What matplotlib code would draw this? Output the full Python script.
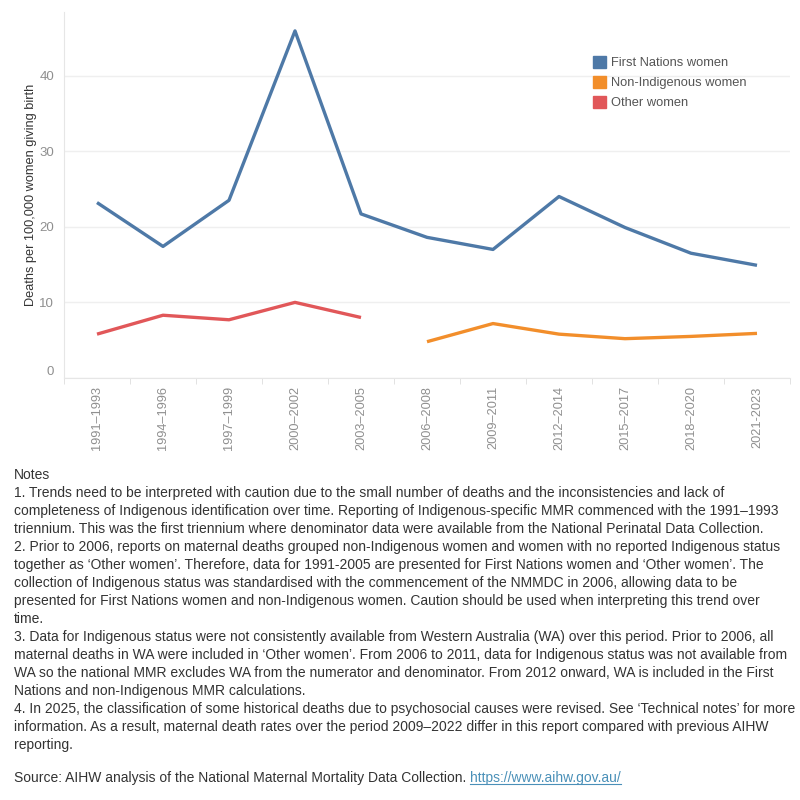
import matplotlib
matplotlib.use("Agg")
import matplotlib.pyplot as plt
from matplotlib.patches import Patch
from matplotlib.ticker import FixedLocator
import numpy as np

periods = ["1991–1993", "1994–1996", "1997–1999", "2000–2002", "2003–2005",
           "2006–2008", "2009–2011", "2012–2014", "2015–2017", "2018–2020",
           "2021-2023"]
first_nations = [23.2, 17.4, 23.5, 45.9, 21.7, 18.6, 17.0, 24.0, 19.9, 16.5, 14.9]
other_women = [5.8, 8.3, 7.7, 10.0, 8.0]            # 1991-1993 .. 2003-2005
non_indigenous = [4.8, 7.2, 5.8, 5.2, 5.5, 5.9]     # 2006-2008 .. 2021-2023
series_names = ["First Nations women", "Non-Indigenous women", "Other women"]

BLUE = "#4e79a7"
ORANGE = "#f28e2b"
RED = "#e15759"
GREY = "#8f8f8f"

notes = [
    "Notes",
    "1. Trends need to be interpreted with caution due to the small number of deaths and the inconsistencies and lack of",
    "completeness of Indigenous identification over time. Reporting of Indigenous-specific MMR commenced with the 1991–1993",
    "triennium. This was the first triennium where denominator data were available from the National Perinatal Data Collection.",
    "2. Prior to 2006, reports on maternal deaths grouped non-Indigenous women and women with no reported Indigenous status",
    "together as ‘Other women’. Therefore, data for 1991-2005 are presented for First Nations women and ‘Other women’. The",
    "collection of Indigenous status was standardised with the commencement of the NMMDC in 2006, allowing data to be",
    "presented for First Nations women and non-Indigenous women. Caution should be used when interpreting this trend over",
    "time.",
    "3. Data for Indigenous status were not consistently available from Western Australia (WA) over this period. Prior to 2006, all",
    "maternal deaths in WA were included in ‘Other women’. From 2006 to 2011, data for Indigenous status was not available from",
    "WA so the national MMR excludes WA from the numerator and denominator. From 2012 onward, WA is included in the First",
    "Nations and non-Indigenous MMR calculations.",
    "4. In 2025, the classification of some historical deaths due to psychosocial causes were revised. See ‘Technical notes’ for more",
    "information. As a result, maternal death rates over the period 2009–2022 differ in this report compared with previous AIHW",
    "reporting.",
]
source_text = "Source: AIHW analysis of the National Maternal Mortality Data Collection. "
source_link = "https://www.aihw.gov.au/"

plt.rcParams['font.family'] = ["Liberation Sans", "DejaVu Sans"]

fig = plt.figure(figsize=(8, 8), dpi=100)
W, H = 800, 800
ax = fig.add_axes([64 / W, 1 - 378 / H, (790 - 64) / W, (378 - 12) / H])

x = np.arange(len(periods))
ax.plot(x, first_nations, color=BLUE, linewidth=2.4, solid_capstyle='butt')
ax.plot(x[5:], non_indigenous, color=ORANGE, linewidth=2.4, solid_capstyle='butt')
ax.plot(x[:5], other_women, color=RED, linewidth=2.4, solid_capstyle='butt')

ax.set_xlim(-0.5, len(periods) - 0.5)
ax.set_ylim(0, 48.4)
ax.set_yticks([0, 10, 20, 30, 40])
ax.grid(axis='y', color="#efefef", linewidth=1)
ax.set_axisbelow(True)

ax.set_xticks(x)
ax.set_xticklabels(periods, rotation=90, color=GREY, fontsize=9.2)
ax.tick_params(axis='x', which='major', length=0, pad=6)
ax.xaxis.set_minor_locator(FixedLocator(np.arange(-0.5, len(periods), 1)))
ax.tick_params(axis='x', which='minor', length=4, color="#dddddd")
ax.tick_params(axis='y', length=0, colors=GREY, labelsize=9.5, pad=7)
ax.get_yticklabels()[0].set_va("bottom")

for s in ["top", "right"]:
    ax.spines[s].set_visible(False)
ax.spines["left"].set_color("#e6e6e6")
ax.spines["bottom"].set_color("#e6e6e6")

ax.set_ylabel("Deaths per 100,000 women giving birth", fontsize=9.2, color="#333333", labelpad=2)

handles = [Patch(facecolor=c, edgecolor=c) for c in (BLUE, ORANGE, RED)]
fig.legend(handles, series_names, loc="upper left", bbox_to_anchor=(581 / W, 1 - 44 / H),
           frameon=False, fontsize=9.3, handlelength=1.05, handleheight=1.15,
           handletextpad=0.4, labelspacing=0.48, labelcolor="#555555")

# fit the notes font so the widest line spans about the same width as the reference
fig.canvas.draw()
r = fig.canvas.get_renderer()
probe = fig.text(0, 0, notes[4], fontsize=10)
pw = probe.get_window_extent(r).width
probe.remove()
fs = 10 * 764 / pw

y0 = 475
for i, line in enumerate(notes):
    fig.text(14 / W, 1 - (y0 + 18 * i) / H, line, fontsize=fs, color="#333333", va="center")

ys = 1 - 778 / H
t1 = fig.text(14 / W, ys, source_text, fontsize=fs, color="#333333", va="center")
bb = t1.get_window_extent(r)
t2 = fig.text(bb.x1 / W, ys, source_link, fontsize=fs, color="#4a90b8", va="center")
bb2 = t2.get_window_extent(r)
fig.add_artist(plt.Line2D([bb2.x0 / W, bb2.x1 / W], [bb2.y0 / H + 0.001, bb2.y0 / H + 0.001],
                          color="#4a90b8", linewidth=0.8))

fig.savefig("out.png", dpi=100)
